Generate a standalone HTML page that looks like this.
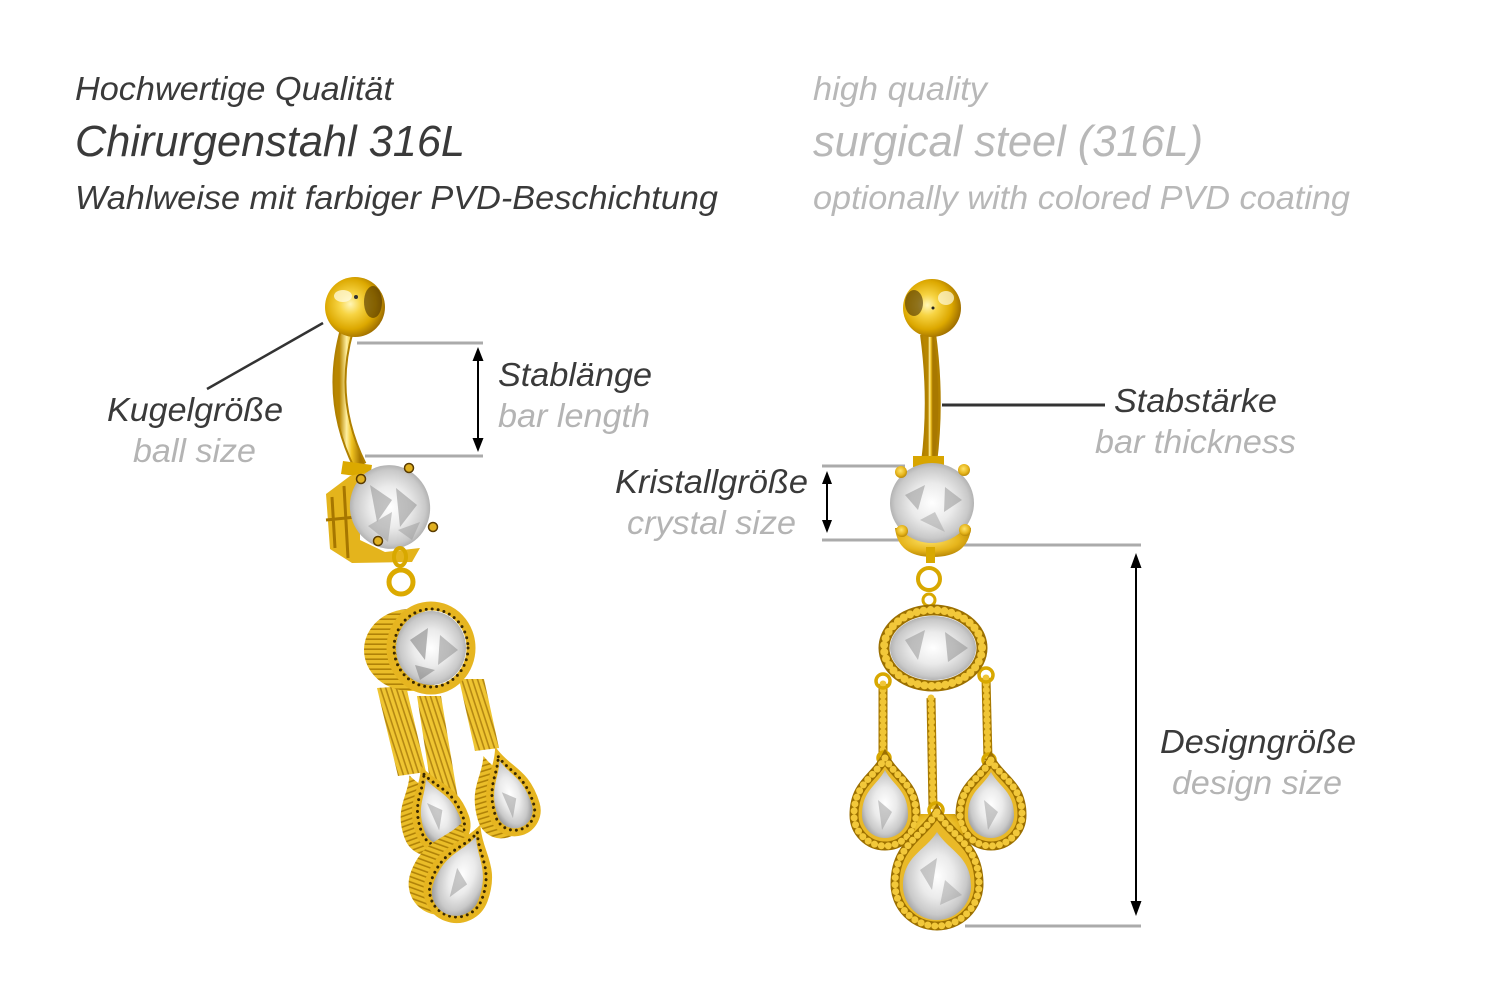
<!DOCTYPE html>
<html><head><meta charset="utf-8">
<style>
html,body{margin:0;padding:0;background:#fff;}
svg{display:block;}
text{font-family:"Liberation Sans",Arial,sans-serif;font-style:italic;}
</style></head><body>
<svg width="1500" height="1001" viewBox="0 0 1500 1001" xmlns="http://www.w3.org/2000/svg">
<defs>
 <radialGradient id="ball" cx="0.42" cy="0.45" r="0.6">
  <stop offset="0" stop-color="#fff6b8"/>
  <stop offset="0.3" stop-color="#f7d443"/>
  <stop offset="0.7" stop-color="#dca800"/>
  <stop offset="1" stop-color="#9a6a00"/>
 </radialGradient>
 <linearGradient id="barG" x1="0" y1="0" x2="1" y2="0">
  <stop offset="0" stop-color="#b88600"/>
  <stop offset="0.35" stop-color="#fff0a0"/>
  <stop offset="0.6" stop-color="#f0c220"/>
  <stop offset="1" stop-color="#a87800"/>
 </linearGradient>
 <radialGradient id="cry" cx="0.5" cy="0.5" r="0.55">
  <stop offset="0" stop-color="#ffffff"/>
  <stop offset="0.45" stop-color="#ebebeb"/>
  <stop offset="0.8" stop-color="#c9c9c9"/>
  <stop offset="1" stop-color="#a0a0a0"/>
 </radialGradient>
 <radialGradient id="goldR" cx="0.45" cy="0.4" r="0.65">
  <stop offset="0" stop-color="#ffe46a"/>
  <stop offset="0.6" stop-color="#e6b51c"/>
  <stop offset="1" stop-color="#b07f00"/>
 </radialGradient>
 <pattern id="ribH" width="8" height="5" patternUnits="userSpaceOnUse">
  <rect width="8" height="5" fill="#eabd28"/>
  <rect y="3.4" width="8" height="1.6" fill="#b08208"/>
 </pattern>
 <pattern id="ribV" width="5" height="8" patternUnits="userSpaceOnUse" patternTransform="rotate(-18)">
  <rect width="5" height="8" fill="#efc532"/>
  <rect x="3.4" width="1.6" height="8" fill="#b58812"/>
 </pattern>
</defs>

<!-- HEADER TEXT -->
<text x="75" y="100" font-size="33" fill="#3a3a3a" textLength="318" lengthAdjust="spacingAndGlyphs">Hochwertige Qualität</text>
<text x="75" y="156" font-size="44" fill="#3a3a3a" textLength="390" lengthAdjust="spacingAndGlyphs">Chirurgenstahl 316L</text>
<text x="75" y="209" font-size="33" fill="#3a3a3a" textLength="643" lengthAdjust="spacingAndGlyphs">Wahlweise mit farbiger PVD-Beschichtung</text>
<text x="813" y="100" font-size="33" fill="#b8b8b8" textLength="174" lengthAdjust="spacingAndGlyphs">high quality</text>
<text x="813" y="156" font-size="44" fill="#b8b8b8" textLength="390" lengthAdjust="spacingAndGlyphs">surgical steel (316L)</text>
<text x="813" y="209" font-size="33" fill="#b8b8b8" textLength="537" lengthAdjust="spacingAndGlyphs">optionally with colored PVD coating</text>

<!-- LABELS -->
<text x="107" y="421" font-size="33" fill="#3a3a3a" textLength="176" lengthAdjust="spacingAndGlyphs">Kugelgröße</text>
<text x="133" y="462" font-size="33" fill="#b4b4b4" textLength="123" lengthAdjust="spacingAndGlyphs">ball size</text>
<text x="498" y="386" font-size="33" fill="#3a3a3a" textLength="154" lengthAdjust="spacingAndGlyphs">Stablänge</text>
<text x="498" y="427" font-size="33" fill="#b4b4b4" textLength="152" lengthAdjust="spacingAndGlyphs">bar length</text>
<text x="1114" y="412" font-size="33" fill="#3a3a3a" textLength="163" lengthAdjust="spacingAndGlyphs">Stabstärke</text>
<text x="1095" y="453" font-size="33" fill="#b4b4b4" textLength="201" lengthAdjust="spacingAndGlyphs">bar thickness</text>
<text x="615" y="493" font-size="33" fill="#3a3a3a" textLength="193" lengthAdjust="spacingAndGlyphs">Kristallgröße</text>
<text x="627" y="534" font-size="33" fill="#b4b4b4" textLength="169" lengthAdjust="spacingAndGlyphs">crystal size</text>
<text x="1160" y="753" font-size="33" fill="#3a3a3a" textLength="196" lengthAdjust="spacingAndGlyphs">Designgröße</text>
<text x="1172" y="794" font-size="33" fill="#b4b4b4" textLength="170" lengthAdjust="spacingAndGlyphs">design size</text>

<!-- DIMENSION LINES -->
<line x1="207" y1="389" x2="323" y2="323" stroke="#333" stroke-width="2.5"/>
<line x1="357" y1="343" x2="483" y2="343" stroke="#ababab" stroke-width="3"/>
<line x1="365" y1="456" x2="483" y2="456" stroke="#ababab" stroke-width="3"/>
<line x1="478" y1="356" x2="478" y2="442" stroke="#000" stroke-width="2"/>
<polygon points="478,347 472.5,361 483.5,361" fill="#000"/>
<polygon points="478,452 472.5,438 483.5,438" fill="#000"/>

<line x1="942" y1="405" x2="1105" y2="405" stroke="#333" stroke-width="3"/>

<line x1="822" y1="466" x2="905" y2="466" stroke="#ababab" stroke-width="3"/>
<line x1="822" y1="540" x2="912" y2="540" stroke="#ababab" stroke-width="3"/>
<line x1="827" y1="480" x2="827" y2="524" stroke="#000" stroke-width="2"/>
<polygon points="827,471 822,484 832,484" fill="#000"/>
<polygon points="827,533 822,520 832,520" fill="#000"/>

<line x1="905" y1="545" x2="1141" y2="545" stroke="#ababab" stroke-width="3"/>
<line x1="965" y1="926" x2="1141" y2="926" stroke="#ababab" stroke-width="3"/>
<line x1="1136" y1="565" x2="1136" y2="904" stroke="#000" stroke-width="2"/>
<polygon points="1136,553 1130.5,568 1141.5,568" fill="#000"/>
<polygon points="1136,916 1130.5,901 1141.5,901" fill="#000"/>

<!-- ================= LEFT PIECE ================= -->
<g>
 <path d="M347,330 Q327,400 360,466" fill="none" stroke="#b08000" stroke-width="14"/>
 <path d="M347,330 Q327,400 360,466" fill="none" stroke="url(#barG)" stroke-width="10"/>
 <circle cx="355" cy="307" r="30" fill="url(#ball)"/>
 <ellipse cx="373" cy="302" rx="9" ry="16" fill="#4a3000" opacity="0.6"/>
 <ellipse cx="343" cy="296" rx="9" ry="6" fill="#fffbe0" opacity="0.75"/>
 <circle cx="356" cy="297" r="2" fill="#333"/>
 <!-- collar -->
 <path d="M343,461 L372,465 L370,478 L341,474 Z" fill="#dba900"/>
 <!-- basket (left side + bottom band) -->
 <path d="M326,494 L350,476 L372,471 L360,500 L360,540 L385,552 L420,548 L412,562 L352,563 L330,549 Z" fill="#e4b41c"/>
 <path d="M332,497 L335,548 M344,486 L348,558 M326,520 L356,517" stroke="#a67600" stroke-width="3" fill="none"/>
 <!-- crystal -->
 <ellipse cx="390" cy="507" rx="40" ry="42" transform="rotate(-15 390 507)" fill="url(#cry)"/>
 <polygon points="370,485 392,500 377,522" fill="#8a8a8a" opacity="0.5"/>
 <polygon points="396,488 417,505 400,527" fill="#7e7e7e" opacity="0.45"/>
 <polygon points="368,526 392,512 388,542" fill="#a0a0a0" opacity="0.55"/>
 <polygon points="398,530 420,522 412,540" fill="#9a9a9a" opacity="0.5"/>
 <circle cx="409" cy="468" r="4.5" fill="#e0b020" stroke="#5a3c00" stroke-width="1.5"/>
 <circle cx="361" cy="479" r="4.5" fill="#e0b020" stroke="#5a3c00" stroke-width="1.5"/>
 <circle cx="433" cy="527" r="4.5" fill="#e0b020" stroke="#5a3c00" stroke-width="1.5"/>
 <circle cx="378" cy="541" r="4.5" fill="#e0b020" stroke="#5a3c00" stroke-width="1.5"/>
 <!-- links -->
 <ellipse cx="400" cy="557" rx="6" ry="9" fill="none" stroke="#d8a800" stroke-width="4"/>
 <circle cx="401" cy="582" r="12" fill="none" stroke="#dcaa00" stroke-width="5"/>
 <!-- bars -->
 <polygon points="377,688 406,686 426,772 398,776" fill="url(#ribV)"/>
 <polygon points="417,696 441,696 462,823 437,826" fill="url(#ribV)"/>
 <polygon points="459,679 484,679 499,748 475,751" fill="url(#ribV)"/>
 <!-- oval body + rim + crystal -->
 <ellipse cx="410" cy="650" rx="46" ry="41" fill="url(#ribH)"/>
 <ellipse cx="431" cy="648" rx="40" ry="42" fill="none" stroke="#e6b520" stroke-width="9"/>
 <ellipse cx="431" cy="648" rx="37" ry="39" fill="none" stroke="#3a2800" stroke-width="3" stroke-dasharray="0 6" stroke-linecap="round"/>
 <ellipse cx="431" cy="648" rx="35" ry="37" fill="url(#cry)"/>
 <polygon points="410,640 428,628 425,660" fill="#7e7e7e" opacity="0.55"/>
 <polygon points="440,635 458,650 438,665" fill="#8a8a8a" opacity="0.5"/>
 <polygon points="415,665 435,670 420,680" fill="#6e6e6e" opacity="0.45"/>
 <!-- left drop -->
 <g transform="rotate(-20 437 810)">
  <path transform="translate(-14 0)" d="M437 768 C446.1 788.3 463 794.1 463 826 A26 26 0 0 1 411 826 C411 794.1 427.9 788.3 437 768 Z" fill="url(#ribH)"/>
  <path d="M437 768 C446.1 788.3 463 794.1 463 826 A26 26 0 0 1 411 826 C411 794.1 427.9 788.3 437 768 Z" fill="#e6b520" stroke="#e6b520" stroke-width="4"/>
  <path d="M437 772 C445 790 459 796 459 826 A22 22 0 0 1 415 826 C415 796 429 790 437 772 Z" fill="none" stroke="#3a2800" stroke-width="3" stroke-dasharray="0 6" stroke-linecap="round"/>
  <path d="M437 777 C443.65 794.5 456 799.5 456 827 A19 19 0 0 1 418 827 C418 799.5 430.35 794.5 437 777 Z" fill="url(#cry)"/>
  <polygon points="430,800 442,812 432,830" fill="#8a8a8a" opacity="0.45"/>
 </g>
 <!-- right drop -->
 <g transform="rotate(-17 510 795)">
  <path transform="translate(-14 0)" d="M510 750 C518.4 771.35 534 777.45 534 811 A24 24 0 0 1 486 811 C486 777.45 501.6 771.35 510 750 Z" fill="url(#ribH)"/>
  <path d="M510 750 C518.4 771.35 534 777.45 534 811 A24 24 0 0 1 486 811 C486 777.45 501.6 771.35 510 750 Z" fill="#e6b520" stroke="#e6b520" stroke-width="4"/>
  <path d="M510 755 C517 774 530 780 530 811 A20 20 0 0 1 490 811 C490 780 503 774 510 755 Z" fill="none" stroke="#3a2800" stroke-width="3" stroke-dasharray="0 6" stroke-linecap="round"/>
  <path d="M510 759 C516.3 777.2 528 782.4 528 811 A18 18 0 0 1 492 811 C492 782.4 503.7 777.2 510 759 Z" fill="url(#cry)"/>
  <polygon points="503,790 515,800 506,818" fill="#8a8a8a" opacity="0.45"/>
 </g>
 <!-- bottom drop -->
 <g transform="rotate(20 462 875)">
  <path transform="translate(-18 0)" d="M462 826 C472.85 848.75 493 855.25 493 891 A31 31 0 0 1 431 891 C431 855.25 451.15 848.75 462 826 Z" fill="url(#ribH)"/>
  <path d="M462 826 C472.85 848.75 493 855.25 493 891 A31 31 0 0 1 431 891 C431 855.25 451.15 848.75 462 826 Z" fill="#e6b520" stroke="#e6b520" stroke-width="4"/>
  <path d="M462 830 C471 852 489 858 489 891 A27 27 0 0 1 435 891 C435 858 453 852 462 830 Z" fill="none" stroke="#3a2800" stroke-width="3" stroke-dasharray="0 6" stroke-linecap="round"/>
  <path d="M462 834 C470.4 854.65 486 860.55 486 893 A24 24 0 0 1 438 893 C438 860.55 453.6 854.65 462 834 Z" fill="url(#cry)"/>
  <polygon points="455,870 470,882 458,900" fill="#8a8a8a" opacity="0.45"/>
 </g>
</g>

<!-- ================= RIGHT PIECE ================= -->
<g>
 <path d="M928,334 Q937,400 929,463" fill="none" stroke="#b08000" stroke-width="16"/>
 <path d="M928,334 Q937,400 929,463" fill="none" stroke="url(#barG)" stroke-width="11"/>
 <circle cx="932" cy="308" r="29" fill="url(#ball)"/>
 <ellipse cx="914" cy="303" rx="9" ry="13" fill="#4a3000" opacity="0.6"/>
 <ellipse cx="946" cy="298" rx="8" ry="7" fill="#fffbe0" opacity="0.7"/>
 <circle cx="933" cy="308" r="1.5" fill="#222"/>
 <!-- collar -->
 <rect x="913" y="456" width="31" height="11" fill="#d8a500"/>
 <!-- base -->
 <path d="M895,528 Q898,557 933,557 Q968,557 971,528 Z" fill="url(#goldR)"/>
 <!-- crystal -->
 <ellipse cx="932" cy="503" rx="42" ry="40" fill="url(#cry)"/>
 <polygon points="905,495 925,485 918,510" fill="#8e8e8e" opacity="0.5"/>
 <polygon points="945,487 962,500 944,512" fill="#909090" opacity="0.5"/>
 <polygon points="920,520 935,512 945,532" fill="#a5a5a5" opacity="0.55"/>
 <circle cx="901" cy="472" r="6" fill="url(#goldR)"/>
 <circle cx="964" cy="470" r="6" fill="url(#goldR)"/>
 <circle cx="902" cy="531" r="6" fill="url(#goldR)"/>
 <circle cx="965" cy="530" r="6" fill="url(#goldR)"/>
 <!-- links -->
 <rect x="926" y="547" width="9" height="16" fill="#d8a800"/>
 <circle cx="929" cy="579" r="11" fill="none" stroke="#d8a800" stroke-width="4"/>
 <circle cx="929" cy="600" r="6" fill="none" stroke="#d8a800" stroke-width="3"/>
 <!-- chains -->
 <line x1="883" y1="684" x2="883" y2="758" stroke="#a87a00" stroke-width="9"/>
 <line x1="883" y1="684" x2="883" y2="758" stroke="#f0c535" stroke-width="7" stroke-dasharray="0 6" stroke-linecap="round"/>
 <line x1="931" y1="698" x2="933" y2="808" stroke="#a87a00" stroke-width="9"/>
 <line x1="931" y1="698" x2="933" y2="808" stroke="#f0c535" stroke-width="7" stroke-dasharray="0 6" stroke-linecap="round"/>
 <line x1="986" y1="678" x2="988" y2="760" stroke="#a87a00" stroke-width="9"/>
 <line x1="986" y1="678" x2="988" y2="760" stroke="#f0c535" stroke-width="7" stroke-dasharray="0 6" stroke-linecap="round"/>
 <circle cx="883" cy="681" r="7" fill="none" stroke="#d8a800" stroke-width="3.5"/>
 <circle cx="986" cy="675" r="7" fill="none" stroke="#d8a800" stroke-width="3.5"/>
 <circle cx="884" cy="758" r="6" fill="none" stroke="#d8a800" stroke-width="3.5"/>
 <circle cx="989" cy="760" r="6" fill="none" stroke="#d8a800" stroke-width="3.5"/>
 <!-- oval -->
 <ellipse cx="933" cy="648" rx="49" ry="38" fill="none" stroke="#9c7000" stroke-width="11"/>
 <ellipse cx="933" cy="648" rx="49" ry="38" fill="none" stroke="#f2c83a" stroke-width="8" stroke-dasharray="0 7" stroke-linecap="round"/>
 <ellipse cx="933" cy="648" rx="43" ry="32" fill="url(#cry)"/>
 <polygon points="905,640 925,630 918,660" fill="#8e8e8e" opacity="0.5"/>
 <polygon points="945,632 968,648 948,662" fill="#8a8a8a" opacity="0.5"/>
 <!-- left drop -->
 <path d="M885 758 C895.85 777.95 916 783.65 916 815 A31 31 0 0 1 854 815 C854 783.65 874.15 777.95 885 758 Z" fill="#e9b928" stroke="#9c7000" stroke-width="9"/>
 <path d="M885 758 C895.85 777.95 916 783.65 916 815 A31 31 0 0 1 854 815 C854 783.65 874.15 777.95 885 758 Z" fill="none" stroke="#f2c83a" stroke-width="7" stroke-dasharray="0 7" stroke-linecap="round"/>
 <path d="M885 770 C893.05 785.75 908 790.25 908 815 A23 23 0 0 1 862 815 C862 790.25 876.95 785.75 885 770 Z" fill="url(#cry)"/>
 <polygon points="878,800 892,812 882,830" fill="#909090" opacity="0.45"/>
 <!-- right drop -->
 <path d="M991 760 C1001.85 779.25 1022 784.75 1022 815 A31 31 0 0 1 960 815 C960 784.75 980.15 779.25 991 760 Z" fill="#e9b928" stroke="#9c7000" stroke-width="9"/>
 <path d="M991 760 C1001.85 779.25 1022 784.75 1022 815 A31 31 0 0 1 960 815 C960 784.75 980.15 779.25 991 760 Z" fill="none" stroke="#f2c83a" stroke-width="7" stroke-dasharray="0 7" stroke-linecap="round"/>
 <path d="M991 772 C999.05 787.05 1014 791.35 1014 815 A23 23 0 0 1 968 815 C968 791.35 982.95 787.05 991 772 Z" fill="url(#cry)"/>
 <polygon points="984,800 998,812 988,830" fill="#909090" opacity="0.45"/>
 <!-- bottom drop -->
 <path d="M908,848 L920,814 L955,814 L969,848 Z" fill="url(#goldR)"/>
 <circle cx="936" cy="810" r="7" fill="none" stroke="#d8a800" stroke-width="3.5"/>
 <path d="M937 812 C951.7 837.2 979 844.4 979 884 A42 42 0 0 1 895 884 C895 844.4 922.3 837.2 937 812 Z" fill="#e9b928" stroke="#9c7000" stroke-width="9"/>
 <path d="M937 812 C951.7 837.2 979 844.4 979 884 A42 42 0 0 1 895 884 C895 844.4 922.3 837.2 937 812 Z" fill="none" stroke="#f2c83a" stroke-width="7" stroke-dasharray="0 7" stroke-linecap="round"/>
 <path d="M937 832 C948.9 850.9 971 856.3 971 886 A34 34 0 0 1 903 886 C903 856.3 925.1 850.9 937 832 Z" fill="url(#cry)"/>
 <polygon points="920,870 937,858 932,890" fill="#909090" opacity="0.45"/>
 <polygon points="945,880 962,895 940,905" fill="#9a9a9a" opacity="0.45"/>
</g>
</svg>
</body></html>
